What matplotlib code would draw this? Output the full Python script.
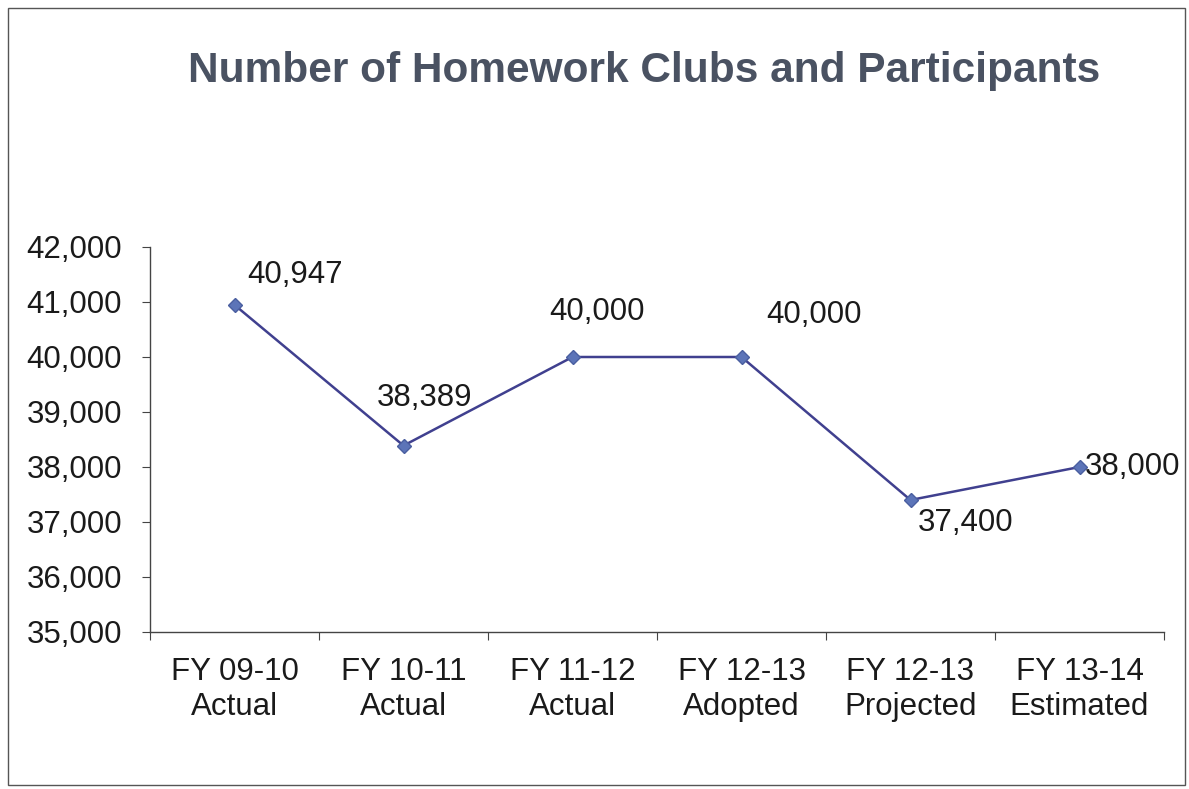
import matplotlib.pyplot as plt
from matplotlib.patches import Rectangle
from matplotlib.ticker import FuncFormatter

plt.rcParams['font.family'] = ['Liberation Sans', 'DejaVu Sans']

categories = ['FY 09-10\nActual', 'FY 10-11\nActual', 'FY 11-12\nActual',
              'FY 12-13\nAdopted', 'FY 12-13\nProjected', 'FY 13-14\nEstimated']
participants = [40947, 38389, 40000, 40000, 37400, 38000]
labels = ['40,947', '38,389', '40,000', '40,000', '37,400', '38,000']
# label offsets in pixels (dx, dy) and alignment
offsets = [(13, 30, 'left'), (21, 48, 'center'), (24, 45, 'center'),
           (25, 42, 'left'), (7, -23, 'left'), (5, 0, 'left')]

fig = plt.figure(figsize=(11.89, 7.89), dpi=100)
fig.patches.append(Rectangle((8/1189, 4/789), 1177/1189, 777/789, transform=fig.transFigure,
                             fill=False, edgecolor='#555555', linewidth=1.0))

ax = fig.add_axes([150/1189, 1 - 632/789, 1014/1189, 385/789])
x = list(range(len(categories)))
ax.plot(x, participants, color='#40408f', linewidth=1.8, marker='D', markersize=7,
        markerfacecolor='#5c74b8', markeredgecolor='#4a5fa0', zorder=3)

for i, (v, t) in enumerate(zip(participants, labels)):
    dx, dy, ha = offsets[i]
    ax.annotate(t, (i, v), xytext=(dx, dy), textcoords='offset pixels',
                ha=ha, va='center', fontsize=22.5, color='#1a1a1a')

ax.set_xlim(-0.5, len(categories) - 0.5)
ax.set_ylim(35000, 42000)
ax.set_yticks(range(35000, 42001, 1000))
ax.yaxis.set_major_formatter(FuncFormatter(lambda v, p: f'{int(v):,}'))
ax.set_xticks([i - 0.5 for i in range(len(categories) + 1)])
ax.set_xticklabels([])
ax.set_xticks(x, minor=True)
ax.set_xticklabels(categories, minor=True, fontsize=22.5, color='#1a1a1a', linespacing=1.22)
ax.tick_params(axis='x', which='minor', length=0, pad=18)
ax.tick_params(axis='x', which='major', length=6, color='#444444', direction='out')
ax.tick_params(axis='y', length=6, color='#444444', labelsize=22.5, labelcolor='#1a1a1a', pad=14)

for s in ['top', 'right']:
    ax.spines[s].set_visible(False)
for s in ['left', 'bottom']:
    ax.spines[s].set_color('#444444')
    ax.spines[s].set_linewidth(1.0)

fig.text(644/1189, 1 - 71/789, 'Number of Homework Clubs and Participants',
         ha='center', va='center', fontsize=30.5, fontweight='bold', color='#4a5262')

plt.savefig('out.png', dpi=100)
